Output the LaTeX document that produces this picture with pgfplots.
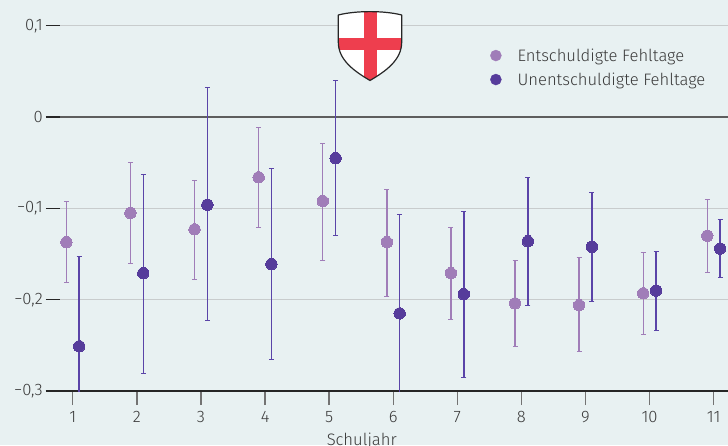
\documentclass[border=0pt]{standalone}
\usepackage{fontspec}
\setmainfont{Fira Sans}[UprightFont={* Light}]
\usepackage{pgfplots}
\usepackage{pgfplotstable}
\pgfplotsset{compat=1.18}
\usetikzlibrary{backgrounds}

\definecolor{bgc}{HTML}{E8F1F2}
\definecolor{hell}{HTML}{A07DB8}
\definecolor{dunkel}{HTML}{563C9B}
\definecolor{dunkelbar}{HTML}{5A44A8}
\definecolor{gitter}{HTML}{C8CCCD}
\definecolor{nulllinie}{HTML}{5E5E5E}
\definecolor{textgrau}{HTML}{3A3A3A}
\definecolor{kreuz}{HTML}{EE3E4E}

\newcommand\lab{\fontsize{16.6}{19.5}\selectfont}

% Schuljahr, Wert, obere und untere Grenze
\pgfplotstableread{
jahr wert hi lo
1  -0.137 -0.092 -0.181
2  -0.105 -0.050 -0.160
3  -0.123 -0.069 -0.178
4  -0.066 -0.011 -0.121
5  -0.092 -0.029 -0.157
6  -0.137 -0.079 -0.197
7  -0.171 -0.121 -0.222
8  -0.204 -0.157 -0.251
9  -0.206 -0.154 -0.257
10 -0.193 -0.148 -0.238
11 -0.130 -0.090 -0.170
}\entsch

\pgfplotstableread{
jahr wert hi lo
1  -0.251 -0.153 -0.349
2  -0.171 -0.063 -0.281
3  -0.096  0.032 -0.223
4  -0.161 -0.056 -0.266
5  -0.045  0.040 -0.130
6  -0.215 -0.107 -0.323
7  -0.194 -0.103 -0.285
8  -0.136 -0.066 -0.206
9  -0.142 -0.083 -0.202
10 -0.190 -0.147 -0.234
11 -0.144 -0.112 -0.176
}\unentsch

\newcommand\shieldpath{(338.3,15) .. controls (356,10.5) and (384,10.5) .. (401.7,15)
  -- (401.7,42) .. controls (401.7,60) and (386,71) .. (370,80.5)
  .. controls (354,71) and (338.3,60) .. (338.3,42) -- cycle}

\begin{document}
\begin{tikzpicture}
\begin{axis}[
  name=ax,
  scale only axis,
  width=682pt, height=391pt,
  xmin=0.582, xmax=11.223,
  ymin=-0.3, ymax=0.1282,
  axis lines*=left,
  y axis line style={draw=none},
  x axis line style={color=black!85, line width=1.5pt},
  xtick={1,...,11},
  ytick={-0.3,-0.2,-0.1,0.1},
  yticklabels={{−0,3},{−0,2},{−0,1},{0,1}},
  extra y ticks={0},
  extra y tick labels={0},
  extra y tick style={grid style={color=nulllinie, line width=1.5pt}},
  /pgf/number format/assume math mode=true,
  xtick align=outside,
  ytick align=inside,
  major tick length=14pt,
  xtick style={color=black!55, line width=1.4pt},
  ytick style={color=black!85, line width=1.4pt},
  ymajorgrids,
  grid style={color=gitter, line width=1.4pt},
  tick label style={font=\lab, text=textgrau},
  yticklabel style={inner sep=3pt},
  xticklabel style={yshift=-3pt},
  xlabel={Schuljahr},
  xlabel style={font=\lab, text=textgrau, at={(axis description cs:0.463,0)},
    anchor=north, inner sep=0pt, yshift=-42pt},
  legend style={draw=none, fill=none, font=\lab, text=textgrau,
    at={(axis description cs:0.651,0.884)}, anchor=north west,
    inner sep=0pt, row sep=4pt, nodes={inner sep=3pt},
    /tikz/every odd column/.append style={column sep=13pt}},
  legend cell align=left,
  error bars/y dir=both,
  error bars/y explicit,
]
\addplot[color=hell, only marks, mark=*, mark size=5.7pt,
  mark options={draw=hell, fill=hell, line width=0pt},
  error bars/error bar style={color=hell, line width=1.4pt},
  error bars/error mark options={rotate=90, mark size=2.5pt, line width=1pt, color=hell},
  legend image code/.code={\fill[hell] (0pt,0pt) circle (5.5pt);}]
  table[x expr=\thisrow{jahr}-0.1, y=wert,
    y error plus expr=\thisrow{hi}-\thisrow{wert},
    y error minus expr=\thisrow{wert}-\thisrow{lo}] {\entsch};
\addplot[color=dunkelbar, only marks, mark=*, mark size=5.7pt,
  mark options={draw=dunkel, fill=dunkel, line width=0pt},
  error bars/error bar style={color=dunkelbar, line width=1.5pt},
  error bars/error mark options={rotate=90, mark size=2.5pt, line width=1pt, color=dunkelbar},
  legend image code/.code={\fill[dunkel] (0pt,0pt) circle (5.5pt);}]
  table[x expr=\thisrow{jahr}+0.1, y=wert,
    y error plus expr=\thisrow{hi}-\thisrow{wert},
    y error minus expr=\thisrow{wert}-\thisrow{lo}] {\unentsch};
\legend{Entschuldigte Fehltage, Unentschuldigte Fehltage}
\end{axis}

% Wappen
\begin{scope}[shift={([xshift=-46pt]ax.north west)}, x=1pt, y=-1pt]
  \fill[white] \shieldpath;
  \begin{scope}
    \clip \shieldpath;
    \fill[kreuz] (364,0) rectangle (376.7,90);
    \fill[kreuz] (330,37.7) rectangle (410,50);
  \end{scope}
  \draw[line width=1.2pt, color=black!85, line join=round] \shieldpath;
\end{scope}

\begin{scope}[on background layer]
  \fill[bgc] ([xshift=-46pt,yshift=-54pt]ax.south west) rectangle (ax.north east);
\end{scope}
\pgfresetboundingbox
\path[use as bounding box] ([xshift=-46pt,yshift=-54pt]ax.south west) rectangle (ax.north east);
\end{tikzpicture}
\end{document}
